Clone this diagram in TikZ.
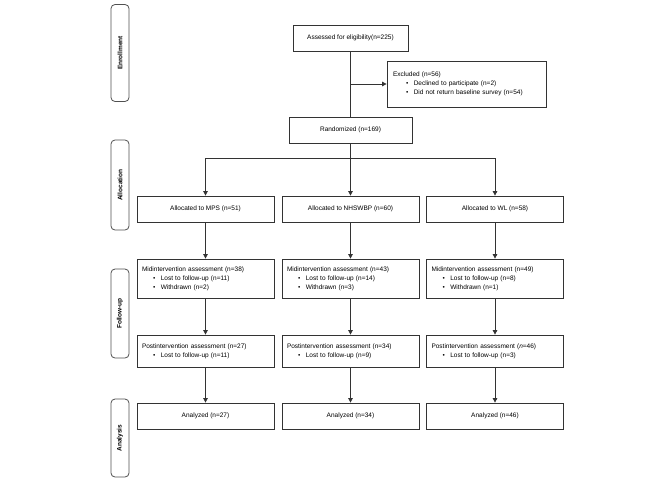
\documentclass[tikz,border=0pt]{standalone}
\usepackage{fontspec}
\setmainfont{Liberation Sans}
\usetikzlibrary{arrows.meta}
\definecolor{boxline}{HTML}{333333}
\definecolor{sideline}{HTML}{505050}
\tikzset{
  every node/.style={font=\fontsize{6.5}{9}\selectfont},
  cbox/.style={draw=boxline, line width=0.8pt, fill=white, inner sep=0pt, align=center},
  lbox/.style={draw=boxline, line width=0.8pt, fill=white, inner xsep=5pt, inner ysep=0pt, align=left},
  side/.style={draw=sideline, line width=0.8pt, rounded corners=4pt, fill=white, inner sep=0pt,
    minimum width=18pt, font=\fontsize{6.5}{8}\selectfont\bfseries},
  arr/.style={draw=boxline, line width=0.8pt, -{Triangle[width=4.5pt,length=4.5pt]}},
  ln/.style={draw=boxline, line width=0.8pt},
  bul/.style={}
}
\newcommand{\bitem}[1]{\hspace*{11pt}\textbullet\hspace{5.5pt}#1}
\newcommand{\bitemx}[1]{\hspace*{13pt}\textbullet\hspace{5.5pt}#1}
\begin{document}
\begin{tikzpicture}[x=1pt,y=-1pt]
\useasboundingbox (0,0) rectangle (666,480);
% side labels
\node[side, minimum height=97pt] (senr) at (120,53) {};
\node[rotate=90, font=\fontsize{6.5}{8}\selectfont\bfseries] (tenr) at (senr.center) {Enrollment};
\node[side, minimum height=90pt] (salloc) at (120,185) {};
\node[rotate=90, font=\fontsize{6.5}{8}\selectfont\bfseries] (talloc) at (salloc.center) {Allocation};
\node[side, minimum height=89pt] (sfol) at (120,313.5) {};
\node[rotate=90, font=\fontsize{6.5}{8}\selectfont\bfseries] (tfol) at (sfol.center) {Follow-up};
\node[side, minimum height=78pt] (sana) at (120,438) {};
\node[rotate=90, font=\fontsize{6.5}{8}\selectfont\bfseries] (tana) at (sana.center) {Analysis};
% enrollment
\node[cbox, minimum width=115pt, minimum height=26pt] (assess) at (350.5,38) {Assessed for eligibility(n=225)};
\node[lbox, minimum width=159pt, text width=147pt, inner xsep=6pt, minimum height=46pt] (excl) at (466.5,84)
  {Excluded (n=56)\\ \bitemx{Declined to participate (n=2)}\\ \bitemx{Did not return baseline survey (n=54)}};
\node[cbox, minimum width=123pt, minimum height=26pt] (rand) at (350.5,130) {Randomized (n=169)};
\coordinate (split) at (350.5,158);
% allocation
\node[cbox, minimum width=137pt, minimum height=26pt] (mps) at (205.5,209) {Allocated to MPS (n=51)};
\node[cbox, minimum width=137pt, minimum height=26pt] (nhs) at (350.5,209) {Allocated to NHSWBP (n=60)};
\node[cbox, minimum width=137pt, minimum height=26pt] (wl) at (495,209) {Allocated to WL (n=58)};
% follow-up mid
\node[lbox, minimum width=137pt, text width=127pt, minimum height=39pt] (mid1) at (205.5,278.5)
  {Midintervention assessment (n=38)\\ \bitem{Lost to follow-up (n=11)}\\ \bitem{Withdrawn (n=2)}};
\node[lbox, minimum width=137pt, text width=127pt, minimum height=39pt] (mid2) at (350.5,278.5)
  {Midintervention assessment (n=43)\\ \bitem{Lost to follow-up (n=14)}\\ \bitem{Withdrawn (n=3)}};
\node[lbox, minimum width=137pt, text width=127pt, minimum height=39pt] (mid3) at (495,278.5)
  {Midintervention assessment (n=49)\\ \bitem{Lost to follow-up (n=8)}\\ \bitem{Withdrawn (n=1)}};
% follow-up post
\node[lbox, minimum width=137pt, text width=127pt, minimum height=32pt] (post1) at (205.5,351)
  {Postintervention assessment (n=27)\\ \bitem{Lost to follow-up (n=11)}};
\node[lbox, minimum width=137pt, text width=127pt, minimum height=32pt] (post2) at (350.5,351)
  {Postintervention assessment (n=34)\\ \bitem{Lost to follow-up (n=9)}};
\node[lbox, minimum width=137pt, text width=127pt, minimum height=32pt] (post3) at (495,351)
  {Postintervention assessment (\textit{n}=46)\\ \bitem{Lost to follow-up (n=3)}};
% analysis
\node[cbox, minimum width=137pt, minimum height=26pt] (ana1) at (205.5,416) {Analyzed (n=27)};
\node[cbox, minimum width=137pt, minimum height=26pt] (ana2) at (350.5,416) {Analyzed (n=34)};
\node[cbox, minimum width=137pt, minimum height=26pt] (ana3) at (495,416) {Analyzed (n=46)};
% connectors
\draw[ln] (assess) -- (rand);
\draw[arr] (assess.south |- excl.west) -- (excl.west);
\draw[ln] (rand) -- (split);
\draw[arr] (split) -| (mps.north);
\draw[arr] (split) -- (nhs.north);
\draw[arr] (split) -| (wl.north);
\draw[arr] (mps) -- (mid1);
\draw[arr] (nhs) -- (mid2);
\draw[arr] (wl) -- (mid3);
\draw[arr] (mid1) -- (post1);
\draw[arr] (mid2) -- (post2);
\draw[arr] (mid3) -- (post3);
\draw[arr] (post1) -- (ana1);
\draw[arr] (post2) -- (ana2);
\draw[arr] (post3) -- (ana3);
\end{tikzpicture}
\end{document}
